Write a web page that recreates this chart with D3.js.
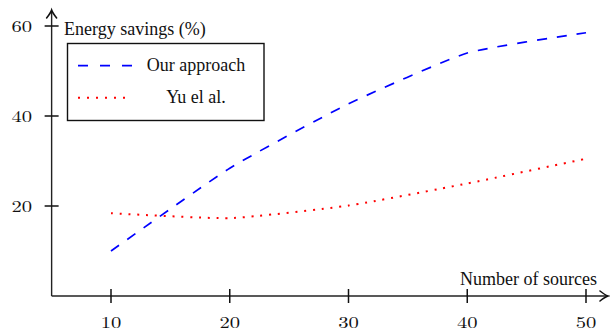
<!DOCTYPE html>
<html>
<head>
<meta charset="utf-8">
<script src="https://cdn.jsdelivr.net/npm/d3@7"></script>
<style>
  body { margin: 0; background: #fff; }
  svg { display: block; }
</style>
</head>
<body>
<div id="chart"></div>
<script>
// data
const sources = [10, 20, 30, 40, 50]
const ourApproach = [10, 28.4, 42.7, 54, 58.5]
const yuEtAl = [18.4, 17.3, 20.1, 25, 30.5]
const xTicks = [10, 20, 30, 40, 50]
const yTicks = [20, 40, 60]

const width = 610, height = 333
const serif = '"Liberation Serif", "Times New Roman", serif'
const mathFont = '"Latin Modern Roman", "Liberation Serif", serif'

const svg = d3.select('#chart').append('svg')
  .attr('width', width)
  .attr('height', height)

const x = d3.scaleLinear().domain([10, 50]).range([111, 586])
const y = d3.scaleLinear().domain([0, 60]).range([296, 26])

const x0 = x(5)   // where the y axis sits
const y0 = y(0)   // where the x axis sits

// axes lines
svg.append('line')
  .attr('x1', x0).attr('x2', 606)
  .attr('y1', y0).attr('y2', y0)
  .attr('stroke', '#222').attr('stroke-width', 1.4)
svg.append('line')
  .attr('x1', x0).attr('x2', x0)
  .attr('y1', y0).attr('y2', 12)
  .attr('stroke', '#222').attr('stroke-width', 1.4)

// latex style arrow heads
function arrow(tx, ty, angle) {
  svg.append('path')
    .attr('d', 'M-8,-5 Q-3,-1 0,0 Q-3,1 -8,5')
    .attr('fill', 'none')
    .attr('stroke', '#111')
    .attr('stroke-width', 1.6)
    .attr('stroke-linecap', 'round')
    .attr('transform', `translate(${tx},${ty}) rotate(${angle})`)
}
arrow(608, y0, 0)
arrow(x0, 10, -90)

// ticks
svg.selectAll('.xt').data(xTicks).enter().append('line')
  .attr('x1', d => x(d)).attr('x2', d => x(d))
  .attr('y1', y0 - 7).attr('y2', y0 + 7)
  .attr('stroke', '#111').attr('stroke-width', 1.5)
svg.selectAll('.xl').data(xTicks).enter().append('text')
  .attr('transform', d => `translate(${x(d)},328) scale(1.25,1)`)
  .attr('text-anchor', 'middle')
  .style('font-family', mathFont).style('font-size', '16.5px')
  .attr('fill', '#111')
  .text(d => d)

svg.selectAll('.yt').data(yTicks).enter().append('line')
  .attr('x1', x0 - 7).attr('x2', x0 + 7)
  .attr('y1', d => y(d)).attr('y2', d => y(d))
  .attr('stroke', '#111').attr('stroke-width', 1.5)
svg.selectAll('.yl').data(yTicks).enter().append('text')
  .attr('transform', d => `translate(32,${y(d) + 5.5}) scale(1.25,1)`)
  .attr('text-anchor', 'end')
  .style('font-family', mathFont).style('font-size', '16.5px')
  .attr('fill', '#111')
  .text(d => d)

// axis labels
svg.append('text')
  .attr('x', 64).attr('y', 35)
  .style('font-family', serif).style('font-size', '18px')
  .attr('fill', '#111')
  .text('Energy savings (%)')
svg.append('text')
  .attr('x', 597).attr('y', 285)
  .attr('text-anchor', 'end')
  .style('font-family', serif).style('font-size', '18px')
  .attr('fill', '#111')
  .text('Number of sources')

// the two series
const line = d3.line()
  .x((d, i) => x(sources[i]))
  .y(d => y(d))
  .curve(d3.curveCardinal.tension(0.5))

svg.append('path')
  .attr('d', line(ourApproach))
  .attr('fill', 'none')
  .attr('stroke', '#0000ff')
  .attr('stroke-width', 1.7)
  .attr('stroke-dasharray', '10,10')

svg.append('path')
  .attr('d', line(yuEtAl))
  .attr('fill', 'none')
  .attr('stroke', '#ff0000')
  .attr('stroke-width', 2)
  .attr('stroke-dasharray', '2,6.8')

// legend
const legend = svg.append('g')
legend.append('rect')
  .attr('x', 67.5).attr('y', 43.5)
  .attr('width', 196.5).attr('height', 77)
  .attr('fill', '#fff')
  .attr('stroke', '#111').attr('stroke-width', 1.4)

const legendItems = [
  { label: 'Our approach', color: '#0000ff', dash: '10,12', w: 1.7 },
  { label: 'Yu el al.', color: '#ff0000', dash: '2,7', w: 2 }
]
legendItems.forEach((item, i) => {
  const cy = 65.7 + i * 32
  legend.append('line')
    .attr('x1', 78).attr('x2', 132)
    .attr('y1', cy).attr('y2', cy)
    .attr('stroke', item.color)
    .attr('stroke-width', item.w)
    .attr('stroke-dasharray', item.dash)
  legend.append('text')
    .attr('x', 196).attr('y', cy + 5)
    .attr('text-anchor', 'middle')
    .style('font-family', serif).style('font-size', '18px')
    .attr('fill', '#111')
    .text(item.label)
})
</script>
</body>
</html>
